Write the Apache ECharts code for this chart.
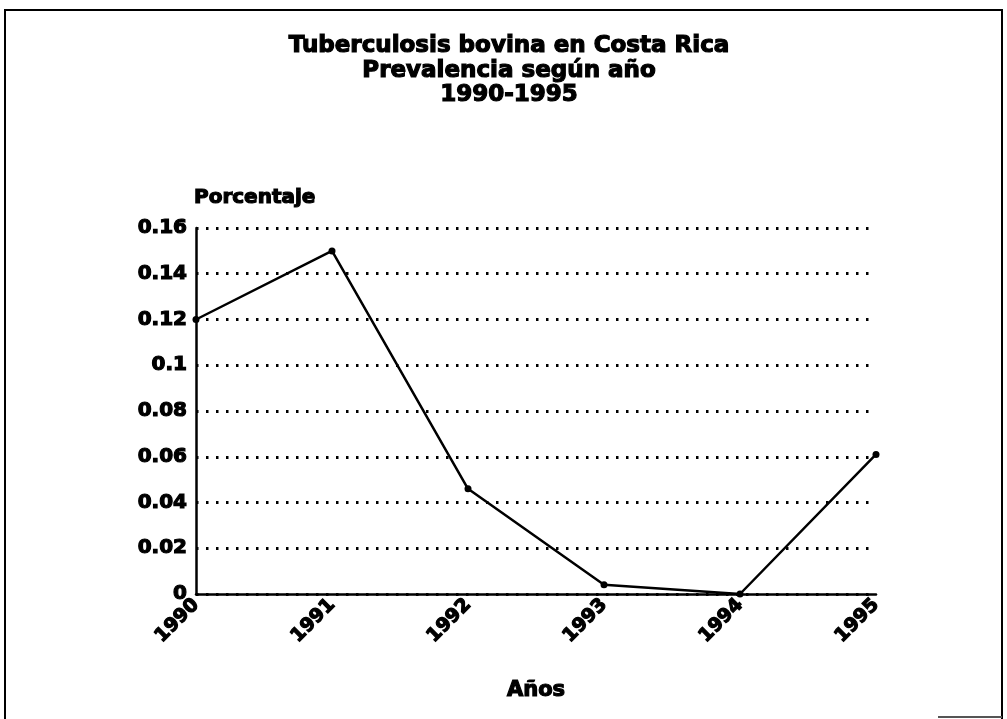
<!DOCTYPE html>
<html>
<head>
<meta charset="utf-8">
<script src="https://cdn.jsdelivr.net/npm/echarts@6/dist/echarts.min.js"></script>
<style>
html,body{margin:0;padding:0;background:#fff;}
#chart{width:1007px;height:719px;}
</style>
</head>
<body>
<div id="chart"></div>
<script>
const titleLines = ['Tuberculosis bovina en Costa Rica', 'Prevalencia según año', '1990-1995'];
const years = ['1990', '1991', '1992', '1993', '1994', '1995'];
const prevalence = [0.12, 0.15, 0.046, 0.004, 0, 0.061];
const yAxisName = 'Porcentaje';
const xAxisName = 'Años';

const FONT = 'DejaVu Sans';
const heavy = { fontFamily: FONT, fontWeight: 'bold', color: '#000', textBorderColor: '#000', textBorderWidth: 1.2 };
const chart = echarts.init(document.getElementById('chart'));
chart.setOption({
  backgroundColor: '#ffffff',
  animation: false,
  title: {
    text: titleLines.join('\n'),
    left: 504, top: 29,
    textAlign: 'center',
    textStyle: Object.assign({}, heavy, { fontSize: 23, lineHeight: 24.5 })
  },
  graphic: [
    { type: 'polyline', shape: { points: [[5, 719], [5, 10], [1002, 10], [1002, 719]] },
      style: { stroke: '#000', lineWidth: 2, fill: null } },
    { type: 'line', shape: { x1: 938, y1: 717, x2: 1002, y2: 717 },
      style: { stroke: '#555', lineWidth: 2 } }
  ],
  grid: { left: 196, right: 131, top: 228, bottom: 125 },
  xAxis: {
    type: 'category',
    data: years,
    boundaryGap: false,
    name: xAxisName,
    nameLocation: 'middle',
    nameGap: 86,
    nameTextStyle: Object.assign({}, heavy, { fontSize: 21 }),
    axisLine: { lineStyle: { color: '#000', width: 2.5 } },
    axisTick: { show: false },
    axisLabel: Object.assign({ rotate: 45, margin: 8, fontSize: 19 }, heavy)
  },
  yAxis: {
    type: 'value',
    min: 0, max: 0.16, interval: 0.02,
    name: yAxisName,
    nameLocation: 'end',
    nameGap: 20,
    nameTextStyle: Object.assign({}, heavy, { fontSize: 20, align: 'left', padding: [0, 0, 0, -2] }),
    axisLine: { show: true, lineStyle: { color: '#000', width: 2.5 } },
    axisTick: { show: false },
    axisLabel: Object.assign({ margin: 9, fontSize: 20,
      formatter: v => String(parseFloat(v.toFixed(2))) }, heavy),
    splitLine: { show: true, lineStyle: { color: '#000', width: 2.8, type: [2.5, 7.5], dashOffset: -10 } }
  },
  series: [{
    type: 'line',
    data: prevalence,
    symbol: 'circle',
    symbolSize: 7,
    itemStyle: { color: '#000' },
    lineStyle: { color: '#000', width: 2.5 },
    z: 5
  }]
});
</script>
</body>
</html>
